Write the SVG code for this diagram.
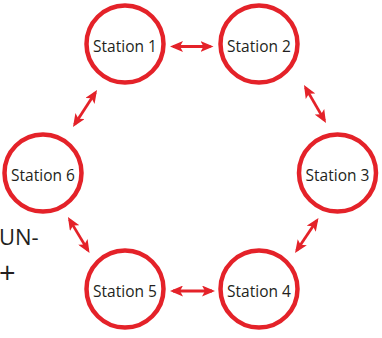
<svg xmlns="http://www.w3.org/2000/svg" width="382" height="338" viewBox="0 0 382 338">
<style>
.st{fill:#fff;stroke:#e42229;stroke-width:4.5}
.lb{font-family:"Open Sans","Liberation Sans",sans-serif;font-size:15.5px;fill:#231f20;text-anchor:middle}
.ed{stroke:#e42229;stroke-width:2.8;fill:none;marker-start:url(#ah);marker-end:url(#ah)}
.side{font-family:"Open Sans","Liberation Sans",sans-serif;font-size:22px;fill:#231f20}
</style>
<defs>
<marker id="ah" viewBox="0 0 13 11" markerWidth="13" markerHeight="11" markerUnits="userSpaceOnUse" refX="10" refY="5.5" orient="auto-start-reverse">
<path d="M0,0 L13,5.5 L0,11 L3,5.5 z" fill="#e42229"/>
</marker>
</defs>
<rect width="382" height="338" fill="#fff"/>
<g id="connectors">
<line class="ed" x1="173" y1="46.5" x2="210.5" y2="46.5"/>
<line class="ed" x1="305.5" y1="87.6" x2="324.5" y2="120.4"/>
<line class="ed" x1="316.8" y1="220.5" x2="296.7" y2="250.5"/>
<line class="ed" x1="212" y1="291" x2="173" y2="291"/>
<line class="ed" x1="88" y1="250.4" x2="69.5" y2="219.6"/>
<line class="ed" x1="74.6" y1="124.5" x2="95.4" y2="92.5"/>
</g>
<g id="station1"><circle class="st" cx="125" cy="44" r="38.5"/><text class="lb" x="125" y="52">Station 1</text></g>
<g id="station2"><circle class="st" cx="259" cy="44" r="38.5"/><text class="lb" x="259" y="52">Station 2</text></g>
<g id="station3"><circle class="st" cx="337.5" cy="173" r="38.5"/><text class="lb" x="337.5" y="181">Station 3</text></g>
<g id="station4"><circle class="st" cx="259" cy="289" r="38.5"/><text class="lb" x="259" y="297">Station 4</text></g>
<g id="station5"><circle class="st" cx="125" cy="289" r="38.5"/><text class="lb" x="125" y="297">Station 5</text></g>
<g id="station6"><circle class="st" cx="43" cy="173" r="38.5"/><text class="lb" x="43" y="181">Station 6</text></g>
<g id="side-text">
<text class="side" x="-1" y="245">UN-</text>
<text class="side" x="-1" y="283" style="font-size:29px">+</text>
</g>
</svg>
